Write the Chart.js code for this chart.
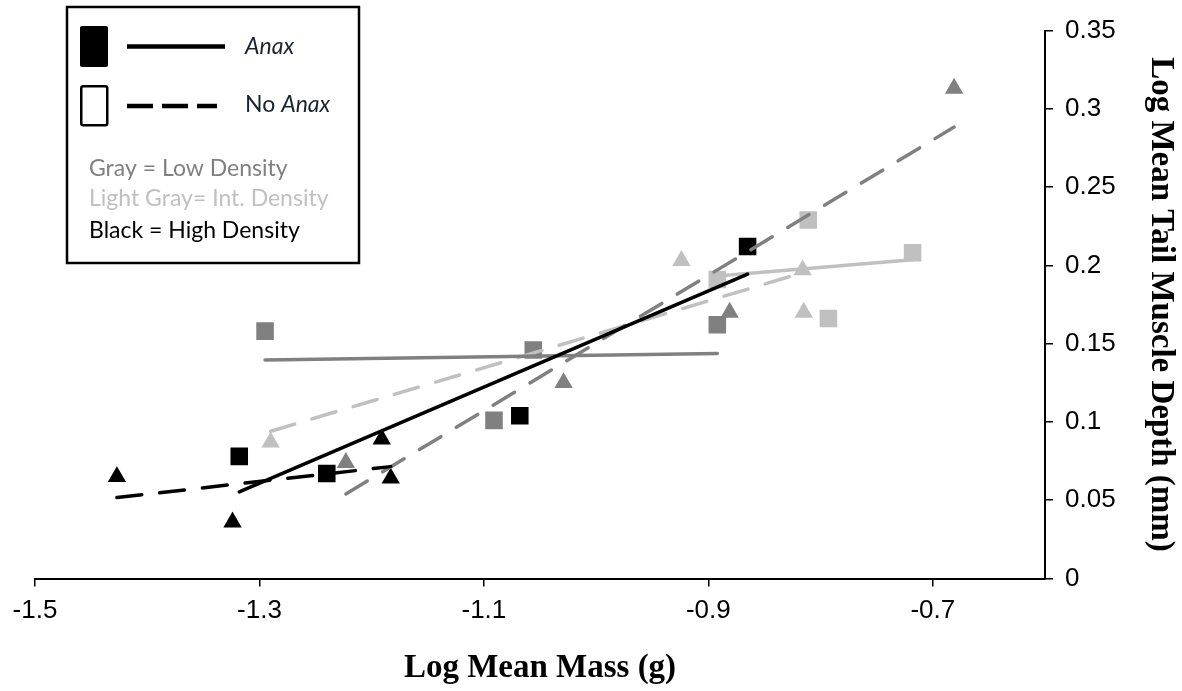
<!DOCTYPE html>
<html>
<head>
<meta charset="utf-8">
<title>Tail muscle depth vs mass</title>
<script src="https://cdn.jsdelivr.net/npm/chart.js@4.4.1/dist/chart.umd.min.js"></script>
<style>
    html, body { margin: 0; padding: 0; background: #fff; }
    canvas { display: block; }
</style>
</head>
<body>
<canvas id="massChart" width="1182" height="691"></canvas>
<script>
/**
 * Tail muscle depth against body mass, by density and predator treatment
 */

// log mean mass (g) / log mean tail muscle depth (mm) per group
const highAnaxMass = [-1.318, -1.240, -1.068, -0.865];
const highAnaxDepth = [0.078, 0.067, 0.104, 0.212];
const highNoAnaxMass = [-1.427, -1.324, -1.191, -1.183];
const highNoAnaxDepth = [0.065, 0.036, 0.089, 0.064];
const lowAnaxMass = [-1.295, -1.091, -1.056, -0.892];
const lowAnaxDepth = [0.158, 0.101, 0.146, 0.162];
const lowNoAnaxMass = [-1.223, -1.029, -0.881, -0.681];
const lowNoAnaxDepth = [0.074, 0.125, 0.170, 0.313];
const intAnaxMass = [-0.892, -0.811, -0.793, -0.718];
const intAnaxDepth = [0.191, 0.229, 0.166, 0.208];
const intNoAnaxMass = [-1.290, -0.924, -0.816, -0.815];
const intNoAnaxDepth = [0.087, 0.203, 0.197, 0.170];

const xTickValues = [-1.5, -1.3, -1.1, -0.9, -0.7];
const xTickLabels = ['-1.5', '-1.3', '-1.1', '-0.9', '-0.7'];
const yTickValues = [0, 0.05, 0.1, 0.15, 0.2, 0.25, 0.3, 0.35];
const yTickLabels = ['0', '0.05', '0.1', '0.15', '0.2', '0.25', '0.3', '0.35'];

const keyTreatments = ['Anax', 'No '];
const keyDensityLabels = ['Gray = Low Density', 'Light Gray= Int. Density', 'Black = High Density'];

const BLACK = '#000000';
const GRAY = '#808080';
const LIGHT = '#c0c0c0';
const KEY_TEXT = '#1a2430';

const groups = [
    { xs: highAnaxMass, ys: highAnaxDepth, color: BLACK, shape: 'rect', dashed: false },
    { xs: highNoAnaxMass, ys: highNoAnaxDepth, color: BLACK, shape: 'triangle', dashed: true },
    { xs: lowAnaxMass, ys: lowAnaxDepth, color: GRAY, shape: 'rect', dashed: false },
    { xs: lowNoAnaxMass, ys: lowNoAnaxDepth, color: GRAY, shape: 'triangle', dashed: true },
    { xs: intAnaxMass, ys: intAnaxDepth, color: LIGHT, shape: 'rect', dashed: false },
    { xs: intNoAnaxMass, ys: intNoAnaxDepth, color: LIGHT, shape: 'triangle', dashed: true }
];

// least squares trend over the range of the group's own points
function fitLine(xs, ys) {
    const n = xs.length;
    const mx = xs.reduce((a, b) => a + b, 0) / n;
    const my = ys.reduce((a, b) => a + b, 0) / n;
    let sxy = 0, sxx = 0;
    for (let i = 0; i < n; i++) {
        sxy += (xs[i] - mx) * (ys[i] - my);
        sxx += (xs[i] - mx) * (xs[i] - mx);
    }
    const slope = sxy / sxx;
    const x0 = Math.min(...xs);
    const x1 = Math.max(...xs);
    return [
        { x: x0, y: my + slope * (x0 - mx) },
        { x: x1, y: my + slope * (x1 - mx) }
    ];
}

const trendSets = groups.map(g => ({
    data: fitLine(g.xs, g.ys),
    showLine: true,
    borderColor: g.color,
    borderWidth: 3.5,
    borderDash: g.dashed ? [25, 18] : [],
    borderCapStyle: 'round',
    pointRadius: 0,
    order: 0
}));

const pointSets = groups.map(g => ({
    data: g.xs.map((x, i) => ({ x: x, y: g.ys[i] })),
    pointStyle: g.shape,
    pointRadius: g.shape === 'rect' ? 12.4 : 10.6,
    backgroundColor: g.color,
    borderColor: g.color,
    borderWidth: 0,
    order: 1
}));

// boxed key in the upper left
const densityKey = {
    id: 'densityKey',
    afterDraw(chart) {
        const ctx = chart.ctx;
        ctx.save();

        ctx.lineWidth = 2.5;
        ctx.strokeStyle = BLACK;
        ctx.strokeRect(67, 7, 292, 256);

        ctx.fillStyle = BLACK;
        ctx.beginPath();
        ctx.roundRect(80, 26, 28, 41, 2);
        ctx.fill();

        ctx.lineWidth = 2.5;
        ctx.beginPath();
        ctx.roundRect(81.25, 86.25, 26, 39, 2);
        ctx.stroke();

        ctx.lineWidth = 4.5;
        ctx.beginPath();
        ctx.moveTo(127, 46.5);
        ctx.lineTo(225, 46.5);
        ctx.stroke();

        ctx.setLineDash([26, 9]);
        ctx.beginPath();
        ctx.moveTo(127, 106);
        ctx.lineTo(217, 106);
        ctx.stroke();
        ctx.setLineDash([]);

        ctx.textBaseline = 'alphabetic';
        ctx.fillStyle = KEY_TEXT;
        ctx.font = 'italic 23px Lato';
        ctx.fillText(keyTreatments[0], 245, 53.5);
        ctx.font = '23px Lato';
        ctx.fillText(keyTreatments[1], 245, 112);
        const noWidth = ctx.measureText(keyTreatments[1]).width;
        ctx.font = 'italic 23px Lato';
        ctx.fillText(keyTreatments[0], 245 + noWidth, 112);

        ctx.font = '23px Lato';
        const keyColors = [GRAY, LIGHT, BLACK];
        const baselines = [176, 206, 237.5];
        keyDensityLabels.forEach((label, i) => {
            ctx.fillStyle = keyColors[i];
            ctx.fillText(label, 89, baselines[i]);
        });

        ctx.restore();
    }
};

const titleFont = { family: 'Liberation Serif', size: 33, weight: 'bold' };
const tickFont = { family: 'Liberation Sans', size: 26 };

new Chart(document.getElementById('massChart'), {
    type: 'scatter',
    data: { datasets: trendSets.concat(pointSets) },
    plugins: [densityKey],
    options: {
        responsive: false,
        animation: false,
        layout: { padding: { left: 35, top: 30.5, right: 0, bottom: 0 } },
        plugins: {
            legend: { display: false },
            tooltip: { enabled: false }
        },
        scales: {
            x: {
                type: 'linear',
                position: 'bottom',
                min: -1.5,
                max: -0.6,
                afterBuildTicks: scale => {
                    scale.ticks = xTickValues.map(v => ({ value: v }));
                },
                afterFit: scale => { scale.height = 112.5; },
                grid: { drawOnChartArea: false, drawTicks: true, tickLength: 8, color: BLACK, lineWidth: 1.5 },
                border: { display: true, color: BLACK, width: 2 },
                ticks: {
                    color: BLACK,
                    font: tickFont,
                    padding: 9,
                    maxRotation: 0,
                    autoSkip: false,
                    callback: (value, index) => xTickLabels[index]
                },
                title: {
                    display: true,
                    text: 'Log Mean Mass (g)',
                    color: BLACK,
                    font: titleFont,
                    padding: { top: 0, bottom: 3 }
                }
            },
            y: {
                type: 'linear',
                position: 'right',
                min: 0,
                max: 0.35,
                afterBuildTicks: scale => {
                    scale.ticks = yTickValues.map(v => ({ value: v }));
                },
                afterFit: scale => { scale.width = 137; },
                grid: { drawOnChartArea: false, drawTicks: true, tickLength: 8, color: BLACK, lineWidth: 1.5 },
                border: { display: true, color: BLACK, width: 2 },
                ticks: {
                    color: BLACK,
                    font: tickFont,
                    padding: 12,
                    autoSkip: false,
                    callback: (value, index) => yTickLabels[index]
                },
                title: {
                    display: true,
                    text: 'Log Mean Tail Muscle Depth (mm)',
                    color: BLACK,
                    font: titleFont,
                    padding: { top: 2, bottom: 0 }
                }
            }
        }
    }
});
</script>
</body>
</html>
